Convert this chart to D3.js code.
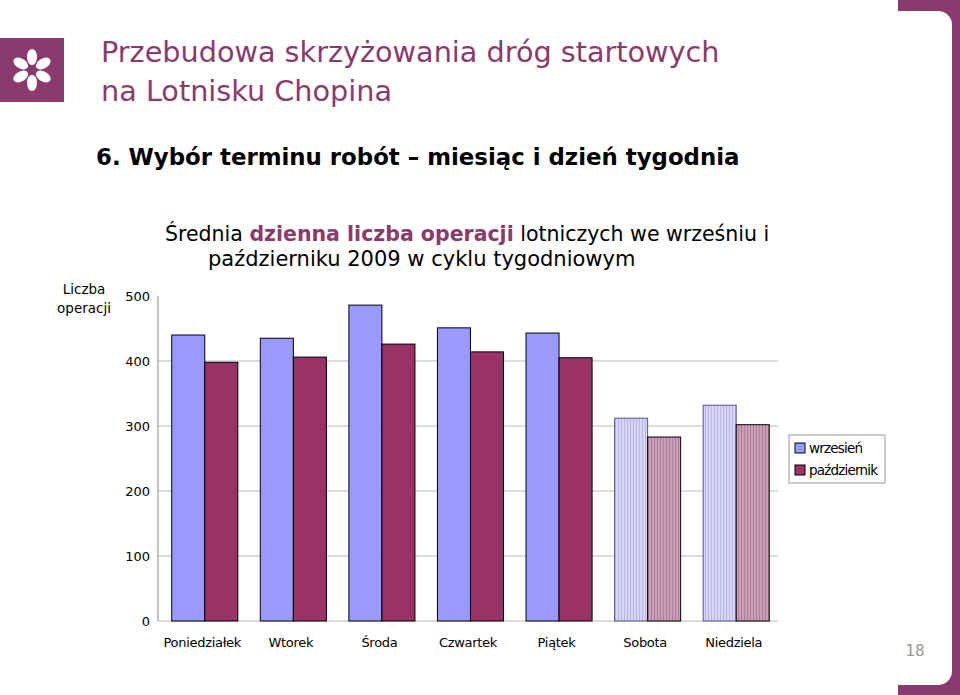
<!DOCTYPE html><html><head><meta charset="utf-8"><script src="https://cdn.jsdelivr.net/npm/d3@7"></script>
<style>body{margin:0;background:#fff}svg{display:block}</style></head><body><script>
const categories=["Poniedziałek","Wtorek","Środa","Czwartek","Piątek","Sobota","Niedziela"];
const wrzesien=[440,435,486,451,443,312,332];
const pazdziernik=[398,406,426,414,405,283,302];
const seriesNames=["wrzesień","październik"];
const yTicks=[0,100,200,300,400,500];
const W=960,H=695,P="#8B3A6E";
const svg=d3.select("body").append("svg").attr("width",W).attr("height",H);
const defs=svg.append("defs");
function pat(id,bg,line){const p=defs.append("pattern").attr("id",id).attr("width",3).attr("height",4).attr("patternUnits","userSpaceOnUse");
p.append("rect").attr("width",3).attr("height",4).attr("fill",bg);p.append("rect").attr("width",1).attr("height",4).attr("fill",line);}
pat("pw","#D6D6F2","#B8B8E6");pat("pp","#C9A0B8","#B07A9A");
function fit(sel,w){const n=sel.node();const l=n.getComputedTextLength();const fs=+sel.attr("font-size");sel.attr("font-size",fs*w/l);}
svg.append("rect").attr("x",898).attr("y",0).attr("width",62).attr("height",H).attr("fill",P);
svg.append("rect").attr("x",898).attr("y",11).attr("width",54).attr("height",674).attr("rx",14).attr("fill","#fff");
svg.append("rect").attr("x",898).attr("y",11).attr("width",20).attr("height",674).attr("fill","#fff");
svg.append("text").attr("x",915).attr("y",656).attr("text-anchor","middle").attr("font-family","DejaVu Sans Mono").attr("font-size",16).attr("fill","#999").text("18");
svg.append("rect").attr("x",0).attr("y",38).attr("width",64).attr("height",64).attr("fill",P);
const lg=svg.append("g").attr("transform","translate(32,70)");
for(let i=0;i<6;i++){lg.append("ellipse").attr("cx",0).attr("cy",-13).attr("rx",5).attr("ry",8).attr("fill","#fff").attr("transform",`rotate(${i*60})`);}
const h1=svg.append("text").attr("x",101).attr("y",62).attr("font-family","DejaVu Sans").attr("font-size",28).attr("fill",P).text("Przebudowa skrzyżowania dróg startowych");
fit(h1,619);
svg.append("text").attr("x",101).attr("y",101).attr("font-family","DejaVu Sans").attr("font-size",h1.attr("font-size")).attr("fill",P).text("na Lotnisku Chopina");
const h2=svg.append("text").attr("x",96).attr("y",165).attr("font-family","DejaVu Sans").attr("font-weight","bold").attr("font-size",24).attr("fill","#000").text("6. Wybór terminu robót – miesiąc i dzień tygodnia");
fit(h2,644);
const t1=svg.append("text").attr("x",165).attr("y",241).attr("font-family","DejaVu Sans").attr("font-size",20.5).attr("fill","#000");
t1.append("tspan").text("Średnia ");t1.append("tspan").attr("font-weight","bold").attr("fill",P).text("dzienna liczba operacji");t1.append("tspan").text(" lotniczych we wrześniu i");
svg.append("text").attr("x",208).attr("y",266).attr("font-family","DejaVu Sans").attr("font-size",21).text("październiku 2009 w cyklu tygodniowym");
svg.append("text").attr("x",84).attr("y",294).attr("text-anchor","middle").attr("font-family","DejaVu Sans").attr("font-size",13.5).text("Liczba");
svg.append("text").attr("x",84).attr("y",313).attr("text-anchor","middle").attr("font-family","DejaVu Sans").attr("font-size",13.5).text("operacji");
const x=d3.scaleBand().domain(categories).range([158,778]);
const y=d3.scaleLinear().domain([0,500]).range([621,296]);
const g=svg.append("g");
yTicks.forEach(t=>{if(t<500)g.append("line").attr("x1",158).attr("x2",778).attr("y1",y(t)).attr("y2",y(t)).attr("stroke","#BBB");
g.append("text").attr("x",150).attr("y",y(t)+5).attr("text-anchor","end").attr("font-family","DejaVu Sans").attr("font-size",13).text(t);});
g.append("line").attr("x1",158).attr("x2",158).attr("y1",296).attr("y2",621).attr("stroke","#888");
const bw=x.bandwidth()*0.373, off=x.bandwidth()*0.155;
categories.forEach((c,i)=>{const we=i>=5;
g.append("rect").attr("x",x(c)+off).attr("y",y(wrzesien[i])).attr("width",bw).attr("height",y(0)-y(wrzesien[i])).attr("fill",we?"url(#pw)":"#9999FF").attr("stroke",we?"#555588":"#000").attr("stroke-width",1);
g.append("rect").attr("x",x(c)+off+bw).attr("y",y(pazdziernik[i])).attr("width",bw).attr("height",y(0)-y(pazdziernik[i])).attr("fill",we?"url(#pp)":"#993366").attr("stroke","#000").attr("stroke-width",1);
g.append("text").attr("x",x(c)+x.bandwidth()/2).attr("y",647).attr("text-anchor","middle").attr("font-family","DejaVu Sans").attr("font-size",13).attr("letter-spacing",-0.3).text(c);});
const L=svg.append("g");
L.append("rect").attr("x",789).attr("y",435).attr("width",96).attr("height",48).attr("fill","#fff").attr("stroke","#999");
[["#9999FF",seriesNames[0],450],["#993366",seriesNames[1],472]].forEach(([c,n,yy])=>{
L.append("rect").attr("x",795).attr("y",yy-7).attr("width",10).attr("height",10).attr("fill",c).attr("stroke","#000");
L.append("text").attr("x",809).attr("y",yy+3).attr("font-family","DejaVu Sans").attr("font-size",13.5).attr("letter-spacing",-0.8).text(n);});
</script></body></html>
